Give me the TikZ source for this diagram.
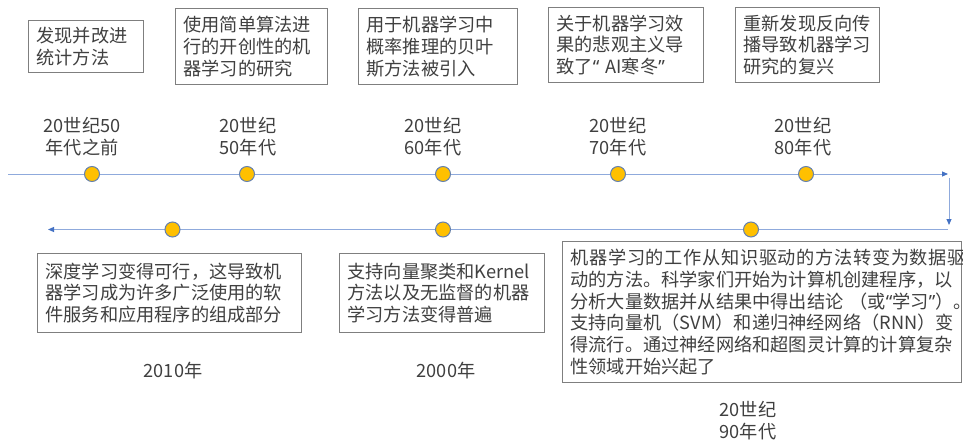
\documentclass[tikz,border=0pt]{standalone}
\usepackage{fontspec}
\setmainfont{Noto Sans CJK SC}
\newfontfamily\qf{Noto Sans}
\usetikzlibrary{arrows.meta}
\definecolor{txt}{HTML}{404040}
\definecolor{boxline}{HTML}{7F7F7F}
\definecolor{tl}{HTML}{8FAADC}
\definecolor{tip}{HTML}{4472C4}
\definecolor{dotfill}{HTML}{FFC000}
\definecolor{dotline}{HTML}{6581AE}
\begin{document}
\begin{tikzpicture}[x=1pt,y=-1pt,
  every node/.style={text=txt, font=\fontsize{18.2}{21.8}\selectfont},
  evbox/.style={draw=boxline, line width=1pt, inner xsep=8pt, inner ysep=0pt, align=left, anchor=north west},
  yr/.style={align=center, inner sep=0pt},
  dot/.style={circle, fill=dotfill, draw=dotline, line width=1pt, minimum size=15pt, inner sep=0pt},
  tline/.style={draw=tl, line width=1pt, -{Triangle[length=6pt,width=5pt,color=tip]}},
]
\useasboundingbox[fill=white] (0,0) rectangle (963,441);

% event boxes (top)
\node[evbox, text width=99pt, minimum height=52pt] (b1) at (28,20) {发现并改进\\统计方法};
\node[evbox, text width=136pt, minimum height=76pt] (b2) at (175,8) {使用简单算法进\\行的开创性的机\\器学习的研究};
\node[evbox, text width=143pt, minimum height=76pt] (b3) at (358,8) {用于机器学习中\\概率推理的贝叶\\斯方法被引入};
\node[evbox, text width=139pt, minimum height=75pt] (b4) at (548,7) {关于机器学习效\\果的悲观主义导\\致了{\qf “}~AI寒冬{\qf ”}};
\node[evbox, text width=127.5pt, minimum height=75pt] (b5) at (735,7) {重新发现反向传\\播导致机器学习\\研究的复兴};

% event boxes (bottom)
\node[evbox, text width=248pt, minimum height=79pt] (b6) at (37,253) {深度学习变得可行，这导致机\\器学习成为许多广泛使用的软\\件服务和应用程序的组成部分};
\node[evbox, text width=383pt, minimum height=141pt] (b8) at (562,241) {{\addfontfeature{LetterSpace=3.6}机器学习的工作从知识驱动的方法转变为数据驱}\\动的方法。科学家们开始为计算机创建程序，以\\分析大量数据并从结果中得出结论~（或{\qf “}学习{\qf ”}）。\\支持向量机（SVM）和递归神经网络（RNN）变\\得流行。通过神经网络和超图灵计算的计算复杂\\性领域开始兴起了};
\node[evbox, text width=189pt, minimum height=79pt] (b7) at (339,253) {支持向量聚类和Kernel\\方法以及无监督的机器\\学习方法变得普遍};

% period labels
\node[yr] (y1) at (82,136.5) {20世纪50\\年代之前};
\node[yr] (y2) at (248,136.5) {20世纪\\50年代};
\node[yr] (y3) at (433,136.5) {20世纪\\60年代};
\node[yr] (y4) at (618,136.5) {20世纪\\70年代};
\node[yr] (y5) at (803,136.5) {20世纪\\80年代};
\node[yr] (y6) at (748,421) {20世纪\\90年代};
\node[yr] (y7) at (446,371) {2000年};
\node[yr] (y8) at (173,371) {2010年};

% timeline
\coordinate (ts) at (8,174);
\coordinate (te) at (948,174);
\coordinate (vs) at (949,178);
\coordinate (ve) at (949,225);
\coordinate (bs) at (948,229.5);
\coordinate (be) at (48,229.5);
\draw[tline] (ts) -- (te);
\draw[tline] (vs) -- (ve);
\draw[tline] (bs) -- (be);

% milestones
\node[dot] (d1) at (92,174) {};
\node[dot] (d2) at (247,174) {};
\node[dot] (d3) at (443,174) {};
\node[dot] (d4) at (618,174) {};
\node[dot] (d5) at (806,174) {};
\node[dot] (d6) at (751,229.5) {};
\node[dot] (d7) at (443,229.5) {};
\node[dot] (d8) at (172.5,229.5) {};
\end{tikzpicture}
\end{document}
